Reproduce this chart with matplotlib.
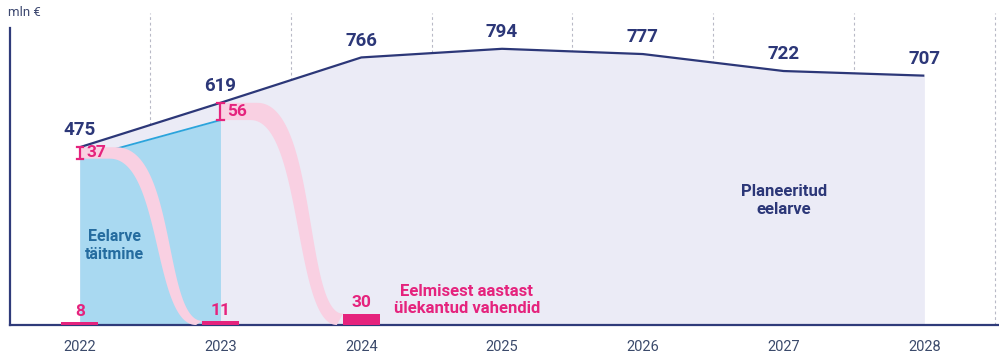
import matplotlib
matplotlib.use("Agg")
import matplotlib.pyplot as plt
import numpy as np

# ---- data ----
years = [2022, 2023, 2024, 2025, 2026, 2027, 2028]
planned = [475, 619, 766, 794, 777, 722, 707]
exec_years = [2022, 2023]
unspent = [37, 56]
executed = [p - u for p, u in zip(planned[:2], unspent)]
carry_years = [2022, 2023, 2024]
carryover = [8, 11, 30]
year_labels = [str(y) for y in years]

plt.rcParams['font.family'] = ['Roboto', 'DejaVu Sans']

NAVY = '#2c3778'
LAV = '#ebebf6'
BLUE_FILL = '#a9d9f1'
BLUE_LINE = '#2aa4dc'
PINK = '#f9d0e2'
MAG = '#e5237d'
TEXT_BLUE = '#256c9f'
AXIS = '#2f3b7a'
GRID = '#b8b9c6'

BASE = -101
TOP = 911
BAR_TOP = 830
BAR_W = 0.26

fig = plt.figure(figsize=(9.99, 3.55), dpi=100)
ax = fig.add_axes([10 / 999, 30 / 355, 989 / 999, (325 - 12.7) / 355])
ax.set_xlim(2021.505, 2028.53)
ax.set_ylim(BASE, TOP)

# secondary scale for the small carry-over bars (starts at the baseline)
ax2 = ax.twinx()
ax2.set_ylim(0, BAR_TOP)
ax2.set_axis_off()


def bar_top_main(x, v):
    disp = ax2.transData.transform((x, v))
    return ax.transData.inverted().transform(disp)[1]


# dashed vertical separators
for y in years:
    ax.axvline(y + 0.5, color=GRID, ls=(0, (2.5, 2.5)), lw=0.8, zorder=0.5)

# planned budget area
ax.fill_between(years, BASE, planned, color=LAV, lw=0, zorder=1)
# execution area
ax.fill_between(exec_years, BASE, executed, color=BLUE_FILL, lw=0, zorder=2)
ax.plot(exec_years, executed, color=BLUE_LINE, lw=1.3, zorder=3)


def bez(t, P0, P1, P2, P3):
    return ((1 - t) ** 3) * P0 + 3 * (1 - t) ** 2 * t * P1 + 3 * (1 - t) * t ** 2 * P2 + t ** 3 * P3


def s_edge(xa, ya, xb, yb, flat, c1, c2, n=80):
    """horizontal run then an S-shaped cubic drop from (xa,ya) to (xb,yb)"""
    xs = xa + flat * (xb - xa)
    d = xb - xs
    t = np.linspace(0, 1, n)[:, None]
    curve = bez(t, np.array([xs, ya]), np.array([xs + c1 * d, ya]),
                np.array([xs + c2 * d, yb]), np.array([xb, yb]))
    return np.vstack([[xa, ya], curve])


# carry-over flow bands
for i in range(len(exec_years)):
    x0 = exec_years[i]
    x1 = carry_years[i + 1] - BAR_W / 2
    y1 = bar_top_main(x1, carryover[i + 1])
    dx = x1 - x0
    outer = s_edge(x0, planned[i], x1, y1, 0.30, 0.70, 0.55)
    inner = s_edge(x0, executed[i], x0 + 0.95 * dx, BASE, 0.26, 0.60, 0.50)
    poly = np.vstack([outer, inner[::-1]])
    ax.fill(poly[:, 0], poly[:, 1], color=PINK, lw=0, zorder=4)

# planned line
ax.plot(years, planned, color=NAVY, lw=1.6, zorder=5, solid_capstyle='butt')

# carry-over bars
ax2.bar(carry_years, carryover, bottom=0, width=BAR_W, color=MAG, zorder=6)

# value labels
for x, v in zip(years, planned):
    ax.annotate(str(v), (x, v), xytext=(0, 8.5), textcoords='offset points',
                ha='center', va='baseline', fontsize=13.5, fontweight='bold',
                color=NAVY, zorder=7)

# brackets and unspent labels
cap = 0.022
for x, top, bot, u in zip(exec_years, planned, executed, unspent):
    ax.plot([x, x], [bot, top], color=MAG, lw=1.6, zorder=7, solid_capstyle='butt')
    ax.plot([x - cap, x + cap], [top, top], color=MAG, lw=1.6, zorder=7)
    ax.plot([x - cap, x + cap], [bot, bot], color=MAG, lw=1.6, zorder=7)
    ax.annotate(str(u), (x, (top + bot) / 2), xytext=(5, 0), textcoords='offset points',
                ha='left', va='center', fontsize=12.5, fontweight='bold',
                color=MAG, zorder=7)

# bar labels
for x, v in zip(carry_years, carryover):
    ax2.annotate(str(v), (x, v), xytext=(0, 4.5), textcoords='offset points',
                 ha='center', va='baseline', fontsize=12.5, fontweight='bold',
                 color=MAG, zorder=7)

# area captions
ax.text(2022.25, 155, 'Eelarve\ntäitmine', ha='center', va='center', fontsize=11.5,
        fontweight='bold', color=TEXT_BLUE, linespacing=1.25, zorder=7)
ax.text(2024.75, -20, 'Eelmisest aastast\nülekantud vahendid', ha='center', va='center',
        fontsize=12, fontweight='bold', color=MAG, linespacing=1.2, zorder=7)
ax.text(2027.0, 304, 'Planeeritud\neelarve', ha='center', va='center', fontsize=12,
        fontweight='bold', color=NAVY, linespacing=1.25, zorder=7)

fig.text(8 / 999, 1 - 13 / 355, 'mln €', ha='left', va='center', fontsize=9.5,
         color='#3d4870')

# axes styling
for s in ['top', 'right']:
    ax.spines[s].set_visible(False)
ax.spines['left'].set_bounds(BASE, 860)
ax.spines['left'].set_color(AXIS)
ax.spines['left'].set_linewidth(1.6)
ax.spines['bottom'].set_color(AXIS)
ax.spines['bottom'].set_linewidth(1.6)
ax.set_yticks([])
ax.set_xticks(years)
ax.set_xticklabels(year_labels, fontsize=10.5, color='#3b4a6b')
ax.tick_params(axis='x', length=0, pad=11)
ax.set_facecolor('none')

fig.savefig('out.png', dpi=100)
